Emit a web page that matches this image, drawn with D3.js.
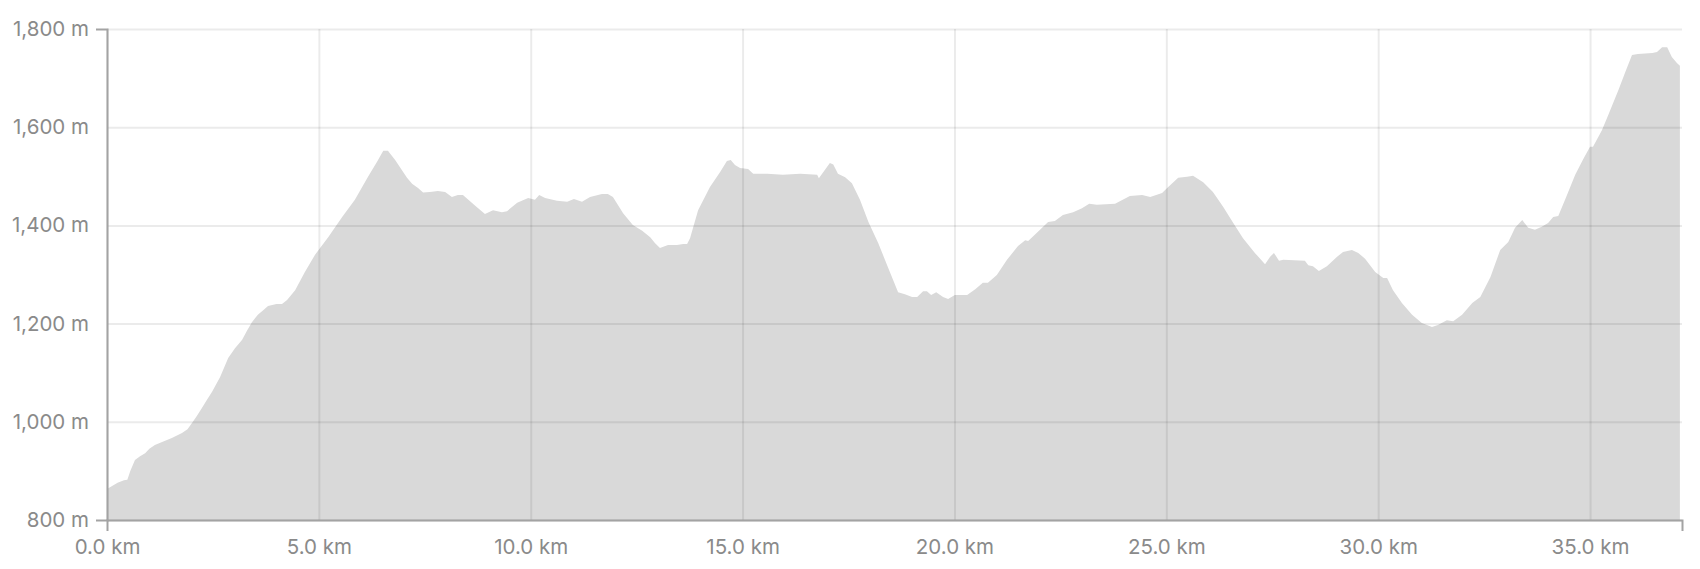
<!DOCTYPE html>
<html>
<head>
<meta charset="utf-8">
<script src="https://cdn.jsdelivr.net/npm/d3@7"></script>
<style>
  html, body { margin: 0; padding: 0; background: #ffffff; }
  svg { display: block; }
  text { font-family: Inter, "Liberation Sans", sans-serif; }
</style>
</head>
<body>
<svg id="chart" width="1700" height="569"></svg>
<script>
// Distance along route (km)
const distKm = [
  0.00, 0.10, 0.25, 0.40, 0.48, 0.55, 0.66, 0.78, 0.90, 1.00,
  1.13, 1.30, 1.53, 1.77, 1.90, 2.01, 2.12, 2.24, 2.36, 2.48,
  2.67, 2.86, 3.02, 3.19, 3.30, 3.42, 3.56, 3.70, 3.80, 4.00,
  4.13, 4.25, 4.44, 4.67, 4.91, 5.22, 5.55, 5.85, 6.16, 6.37,
  6.52, 6.63, 6.80, 7.08, 7.20, 7.34, 7.46, 7.62, 7.81, 7.98,
  8.14, 8.28, 8.40, 8.69, 8.92, 9.11, 9.32, 9.44, 9.68, 9.94,
  10.10, 10.20, 10.34, 10.62, 10.86, 11.02, 11.21, 11.40, 11.68, 11.82,
  11.94, 12.18, 12.41, 12.63, 12.82, 12.93, 13.05, 13.24, 13.45, 13.60,
  13.69, 13.76, 13.95, 14.23, 14.47, 14.63, 14.72, 14.82, 14.94, 15.13,
  15.25, 15.58, 15.95, 16.36, 16.76, 16.80, 17.06, 17.14, 17.25, 17.42,
  17.58, 17.77, 17.97, 18.20, 18.43, 18.67, 18.83, 19.00, 19.12, 19.26,
  19.35, 19.45, 19.57, 19.73, 19.85, 20.01, 20.30, 20.49, 20.67, 20.79,
  21.00, 21.24, 21.50, 21.67, 21.74, 21.97, 22.21, 22.37, 22.56, 22.80,
  23.01, 23.18, 23.36, 23.79, 24.14, 24.43, 24.62, 24.90, 25.02, 25.28,
  25.49, 25.63, 25.87, 26.10, 26.34, 26.58, 26.81, 27.09, 27.33, 27.45,
  27.54, 27.66, 27.76, 28.27, 28.35, 28.46, 28.60, 28.79, 29.03, 29.17,
  29.38, 29.53, 29.69, 29.93, 30.12, 30.21, 30.35, 30.56, 30.80, 31.03,
  31.27, 31.41, 31.62, 31.77, 31.98, 32.22, 32.41, 32.65, 32.88, 33.07,
  33.23, 33.40, 33.54, 33.70, 33.86, 34.01, 34.13, 34.25, 34.41, 34.65,
  34.85, 35.00, 35.07, 35.28, 35.43, 35.67, 35.83, 35.99, 36.13, 36.47,
  36.58, 36.70, 36.82, 36.93, 37.05, 37.12
];

// Elevation (m)
const elevM = [
  863, 868, 876, 881, 882, 900, 922, 930, 936, 945,
  953, 959, 967, 977, 985, 998, 1012, 1028, 1045, 1061,
  1091, 1130, 1150, 1167, 1185, 1203, 1218, 1228, 1236, 1240,
  1240, 1248, 1268, 1305, 1340, 1376, 1417, 1452, 1499, 1529,
  1552, 1552, 1533, 1497, 1485, 1476, 1467, 1468, 1470, 1468,
  1458, 1462, 1462, 1440, 1423, 1431, 1427, 1429, 1446, 1456,
  1452, 1462, 1456, 1450, 1448, 1454, 1448, 1458, 1464, 1464,
  1458, 1425, 1401, 1389, 1376, 1364, 1354, 1360, 1360, 1362,
  1362, 1374, 1431, 1478, 1509, 1531, 1533, 1523, 1517, 1515,
  1505, 1505, 1503, 1505, 1503, 1496, 1527, 1524, 1505, 1498,
  1486, 1452, 1407, 1364, 1315, 1264, 1260, 1254, 1254, 1266,
  1266, 1258, 1264, 1254, 1250, 1258, 1258, 1270, 1283, 1283,
  1299, 1330, 1358, 1370, 1368, 1387, 1407, 1409, 1421, 1427,
  1435, 1444, 1442, 1444, 1460, 1462, 1458, 1466, 1476, 1497,
  1499, 1501, 1488, 1468, 1438, 1405, 1374, 1344, 1321, 1336,
  1344, 1328, 1330, 1328, 1319, 1317, 1307, 1317, 1336, 1346,
  1350, 1344, 1332, 1305, 1293, 1293, 1268, 1242, 1218, 1201,
  1193, 1197, 1207, 1205, 1218, 1242, 1254, 1295, 1350, 1366,
  1395, 1411, 1395, 1391, 1397, 1405, 1417, 1419, 1452, 1503,
  1537, 1560, 1560, 1594, 1625, 1676, 1712, 1747, 1749, 1751,
  1753, 1763, 1763, 1743, 1731, 1725
];

// Axis ticks and labels
const xTickValues = [0, 5, 10, 15, 20, 25, 30, 35];
const xTickLabels = ["0.0 km", "5.0 km", "10.0 km", "15.0 km", "20.0 km", "25.0 km", "30.0 km", "35.0 km"];
const yTickValues = [800, 1000, 1200, 1400, 1600, 1800];
const yTickLabels = ["800 m", "1,000 m", "1,200 m", "1,400 m", "1,600 m", "1,800 m"];
const xDomain = [0, 37.17];
const yDomain = [800, 1800];

const W = 1700, H = 569;
const margin = { top: 29, right: 18, bottom: 49, left: 107 };
const iw = W - margin.left - margin.right;
const ih = H - margin.top - margin.bottom;

const svg = d3.select("#chart");
const g = svg.append("g").attr("transform", `translate(${margin.left},${margin.top})`);

const x = d3.scaleLinear().domain(xDomain).range([0, iw]);
const y = d3.scaleLinear().domain(yDomain).range([ih, 0]);

const data = distKm.map((d, i) => ({ d, e: elevM[i] }));

// Area
const area = d3.area()
  .x(p => x(p.d))
  .y0(y(yDomain[0]))
  .y1(p => y(p.e))
  .curve(d3.curveLinear);

g.append("path")
  .datum(data)
  .attr("d", area)
  .attr("fill", "#d9d9d9");

// X axis with gridlines (inner ticks upward)
const xAxis = d3.axisBottom(x)
  .tickValues(xTickValues)
  .tickFormat((v, i) => xTickLabels[i])
  .tickSizeInner(-ih)
  .tickSizeOuter(11)
  .tickPadding(19);

const gx = g.append("g").attr("transform", `translate(0,${ih})`).call(xAxis);
gx.selectAll(".tick line").attr("stroke", "rgba(0,0,0,0.08)").attr("stroke-width", 2);
gx.select(".domain").remove();

// Y axis with gridlines
const yAxis = d3.axisLeft(y)
  .tickValues(yTickValues)
  .tickFormat((v, i) => yTickLabels[i])
  .tickSizeInner(-iw)
  .tickSizeOuter(11)
  .tickPadding(18);

const gy = g.append("g").call(yAxis);
gy.selectAll(".tick line").attr("stroke", "rgba(0,0,0,0.08)").attr("stroke-width", 2);
gy.select(".domain").remove();

// Domain lines on top
const gxd = g.append("g").attr("transform", `translate(0,${ih})`).call(xAxis);
gxd.selectAll(".tick").remove();
gxd.select(".domain").attr("stroke", "#a3a3a3").attr("stroke-width", 2);
const gyd = g.append("g").call(yAxis);
gyd.selectAll(".tick").remove();
gyd.select(".domain").attr("stroke", "#a3a3a3").attr("stroke-width", 2);

svg.selectAll(".tick text")
  .attr("fill", "#8a8a8a")
  .style("font-size", "20.5px")
  .style("font-family", "Inter, 'Liberation Sans', sans-serif");
</script>
</body>
</html>
